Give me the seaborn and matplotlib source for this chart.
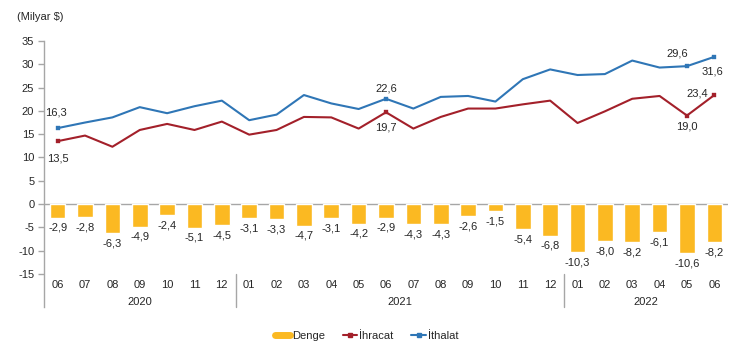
import numpy as np
import pandas as pd
import matplotlib
matplotlib.use("Agg")
import matplotlib.pyplot as plt
from matplotlib.lines import Line2D
import seaborn as sns

# ---- data ----
months = ["06", "07", "08", "09", "10", "11", "12",
          "01", "02", "03", "04", "05", "06", "07", "08", "09", "10", "11", "12",
          "01", "02", "03", "04", "05", "06"]
years = ["2020", "2021", "2022"]
year_counts = [7, 12, 6]
denge = [-2.9, -2.8, -6.3, -4.9, -2.4, -5.1, -4.5,
         -3.1, -3.3, -4.7, -3.1, -4.2, -2.9, -4.3, -4.3, -2.6, -1.5, -5.4, -6.8,
         -10.3, -8.0, -8.2, -6.1, -10.6, -8.2]
ihracat = [13.5, 14.7, 12.3, 15.9, 17.2, 15.9, 17.7,
           14.9, 15.9, 18.7, 18.6, 16.2, 19.7, 16.2, 18.7, 20.5, 20.5, 21.4, 22.2,
           17.4, 19.9, 22.6, 23.2, 19.0, 23.4]
ithalat = [16.3, 17.5, 18.6, 20.8, 19.5, 21.0, 22.2,
           18.0, 19.2, 23.4, 21.6, 20.4, 22.6, 20.5, 23.0, 23.2, 22.0, 26.8, 28.9,
           27.7, 27.9, 30.8, 29.3, 29.6, 31.6]
labeled_idx = [0, 12, 23, 24]
series_names = ["Denge", "İhracat", "İthalat"]

ORANGE = "#FBB922"
RED = "#A3202A"
BLUE = "#2F76B6"
TXT = "#262626"
GRAY = "#A6A6A6"

sns.set_style("white")
plt.rcParams["font.family"] = ["Liberation Sans", "DejaVu Sans"]
plt.rcParams["font.size"] = 8
plt.rcParams["axes.unicode_minus"] = False

df = pd.DataFrame({"idx": np.arange(len(months)), "month": months,
                   "denge": denge, "ihracat": ihracat, "ithalat": ithalat})

fig = plt.figure(figsize=(7.30, 3.49), dpi=100)
ax = fig.add_axes([44 / 730, 1 - 307 / 349, 684 / 730, 266 / 349])

ax.axhline(0, color=GRAY, lw=1, zorder=1)
sns.barplot(data=df, x="idx", y="denge", native_scale=True, width=0.57,
            color=ORANGE, saturation=1, ax=ax, zorder=2)
sns.lineplot(data=df, x="idx", y="ihracat", color=RED, lw=1.5, ax=ax, zorder=3)
sns.lineplot(data=df, x="idx", y="ithalat", color=BLUE, lw=1.5, ax=ax, zorder=3)
sub = df.iloc[labeled_idx]
sns.scatterplot(data=sub, x="idx", y="ihracat", color=RED, marker="s", s=10,
                edgecolor=RED, ax=ax, zorder=4)
sns.scatterplot(data=sub, x="idx", y="ithalat", color=BLUE, marker="s", s=10,
                edgecolor=BLUE, ax=ax, zorder=4)

fmt = lambda v: f"{v:.1f}".replace(".", ",")

# bar labels
for i, v in enumerate(denge):
    ax.annotate(fmt(v), (i, v), xytext=(0, -10), textcoords="offset pixels",
                ha="center", va="center", color=TXT, fontsize=8)

# line labels (offsets in pixels)
imp_off = {0: (-2, 16), 12: (0, 10), 23: (-10, 13), 24: (-2, -15)}
exp_off = {0: (0, -17), 12: (0, -15), 23: (0, -11), 24: (-17, 2)}
for i in labeled_idx:
    ax.annotate(fmt(ithalat[i]), (i, ithalat[i]), xytext=imp_off[i],
                textcoords="offset pixels", ha="center", va="center", color=TXT, fontsize=8)
    ax.annotate(fmt(ihracat[i]), (i, ihracat[i]), xytext=exp_off[i],
                textcoords="offset pixels", ha="center", va="center", color=TXT, fontsize=8)

ax.set_xlim(-0.5, len(months) - 0.5)
ax.set_ylim(-22.1, 35)
ax.set_yticks(np.arange(-15, 36, 5))
ax.set_xticks([])
ax.set_xlabel("")
ax.set_ylabel("")
for s in ["top", "right", "bottom"]:
    ax.spines[s].set_visible(False)
ax.spines["left"].set_color(GRAY)
ax.spines["left"].set_linewidth(1)
ax.tick_params(axis="y", left=True, length=4, width=1, color=GRAY,
               labelsize=8, pad=3, labelcolor=TXT)

# category labels
for i, m in enumerate(months):
    ax.text(i, -17.4, m, ha="center", va="center", color=TXT, fontsize=8)
start = 0
for y, c in zip(years, year_counts):
    ax.text(start + (c - 1) / 2, -21.0, y, ha="center", va="center", color=TXT, fontsize=8)
    if start > 0:
        ax.plot([start - 0.5, start - 0.5], [-15, -22.1], color=GRAY, lw=1, clip_on=False)
    start += c

fig.text(17 / 730, 1 - 17 / 349, "(Milyar $)", ha="left", va="center", color=TXT, fontsize=8)

handles = [Line2D([], [], color=ORANGE, lw=5),
           Line2D([], [], color=RED, lw=1.5, marker="s", markersize=3),
           Line2D([], [], color=BLUE, lw=1.5, marker="s", markersize=3)]
fig.legend(handles, series_names, loc="center", bbox_to_anchor=(367 / 730, 1 - 336 / 349),
           ncol=3, frameon=False, fontsize=8, handlelength=1.3, handletextpad=0.2,
           columnspacing=1.6, labelcolor=TXT)

fig.savefig("out.png", dpi=100)
